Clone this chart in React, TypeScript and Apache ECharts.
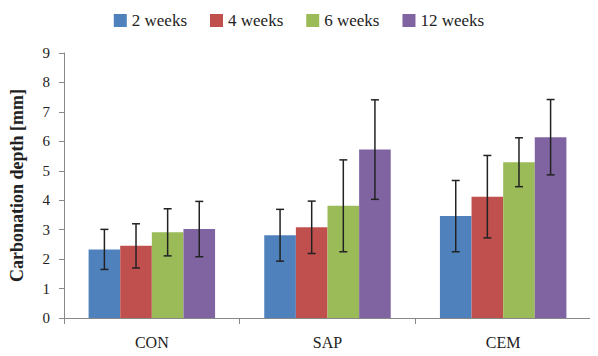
import React, { useEffect, useRef } from "react";
import * as echarts from "echarts";

const categories = ["CON", "SAP", "CEM"];
const seriesNames = ["2 weeks", "4 weeks", "6 weeks", "12 weeks"];
const colors = ["#4F81BD", "#C0504D", "#9BBB59", "#8064A2"];
// mean values per series (rows) for each category (columns)
const week2 = [2.33, 2.81, 3.46];
const week4 = [2.45, 3.08, 4.12];
const week6 = [2.91, 3.81, 5.29];
const week12 = [3.02, 5.72, 6.14];
// error (± standard deviation)
const err2 = [0.68, 0.88, 1.21];
const err4 = [0.75, 0.89, 1.4];
const err6 = [0.8, 1.56, 0.83];
const err12 = [0.94, 1.69, 1.28];
const yTicks = [0, 9, 1];

const FONT = "Liberation Serif";

export default function App() {
  const ref = useRef<HTMLDivElement>(null);
  useEffect(() => {
    if (!ref.current) return;
    const chart = echarts.init(ref.current, undefined, { renderer: "svg" });
    const means = [week2, week4, week6, week12];
    const errs = [err2, err4, err6, err12];
    const gapRatio = 0.28;
    const errData: number[][] = [];
    means.forEach((arr, s) => {
      arr.forEach((v, c) => {
        errData.push([c, s, v - errs[s][c], v + errs[s][c]]);
      });
    });
    chart.setOption({
      animation: false,
      textStyle: { fontFamily: FONT },
      legend: {
        top: 7,
        left: "center",
        itemWidth: 13,
        itemHeight: 13,
        itemGap: 23,
        icon: "rect",
        textStyle: { fontFamily: FONT, fontSize: 17, color: "#222" },
        data: seriesNames,
      },
      grid: { left: 64, right: 7, top: 53, bottom: 38 },
      xAxis: {
        type: "category",
        data: categories,
        axisLine: { lineStyle: { color: "#888" } },
        axisTick: { show: true, alignWithLabel: false, length: 6, lineStyle: { color: "#888" } },
        axisLabel: { fontFamily: FONT, fontSize: 16, color: "#222", margin: 16 },
      },
      yAxis: {
        type: "value",
        min: yTicks[0],
        max: yTicks[1],
        interval: yTicks[2],
        name: "Carbonation depth [mm]",
        nameLocation: "middle",
        nameGap: 38,
        nameTextStyle: { fontFamily: FONT, fontSize: 18, fontWeight: "bold", color: "#222" },
        axisLine: { show: true, lineStyle: { color: "#888" } },
        axisTick: { show: true, length: 5, lineStyle: { color: "#888" } },
        axisLabel: { fontFamily: FONT, fontSize: 15, color: "#222", margin: 14 },
        splitLine: { show: false },
      },
      series: [
        ...means.map((arr, s) => ({
          type: "bar",
          name: seriesNames[s],
          data: arr,
          barGap: "0%",
          barCategoryGap: gapRatio * 100 + "%",
          itemStyle: { color: colors[s] },
        })),
        {
          type: "custom",
          name: "err",
          data: errData,
          encode: { x: 0, y: [2, 3] },
          z: 10,
          renderItem: (params: any, api: any) => {
            const cat = api.value(0);
            const s = api.value(1);
            const lo = api.value(2);
            const hi = api.value(3);
            const bw = (api.size([1, 0])[0] * (1 - gapRatio)) / 4;
            const top = api.coord([cat, hi]);
            const bot = api.coord([cat, lo]);
            const x = top[0] + (s - 1.5) * bw;
            const cap = 4;
            const style = { stroke: "#222", lineWidth: 1.5 };
            return {
              type: "group",
              children: [
                { type: "line", shape: { x1: x, y1: top[1], x2: x, y2: bot[1] }, style },
                { type: "line", shape: { x1: x - cap, y1: top[1], x2: x + cap, y2: top[1] }, style },
                { type: "line", shape: { x1: x - cap, y1: bot[1], x2: x + cap, y2: bot[1] }, style },
              ],
            };
          },
        },
      ],
    });
    return () => chart.dispose();
  }, []);
  return <div ref={ref} style={{ width: 598, height: 356, margin: -8 }} />;
}
